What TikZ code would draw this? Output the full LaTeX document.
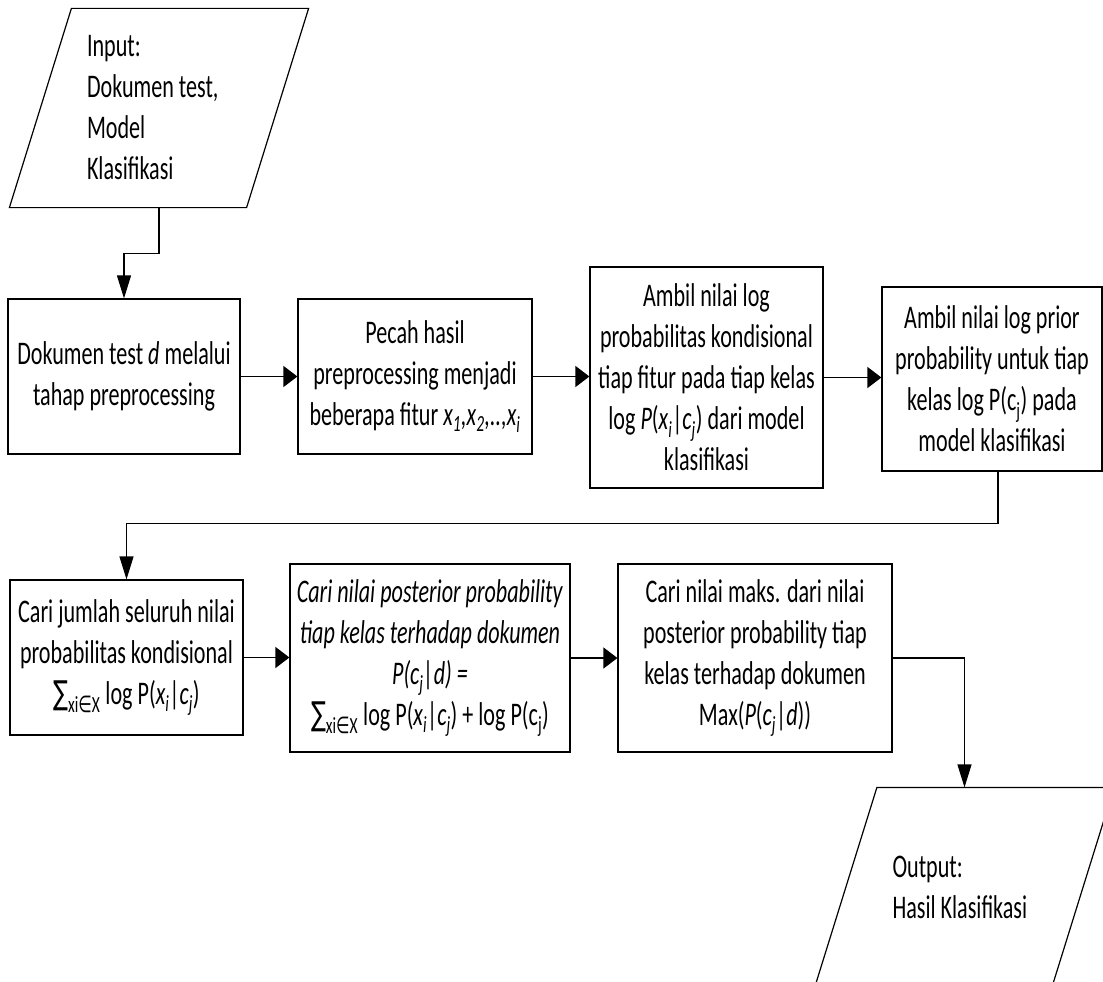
\documentclass[tikz,border=0pt]{standalone}
\usepackage{fontspec}
\setmainfont{Carlito}[FakeStretch=0.67]
\newfontfamily\sumfont{DejaVu Sans}[FakeStretch=0.67]
\usetikzlibrary{arrows.meta}
\newcommand{\sumx}{{\sumfont ∑}\textsubscript{xi{\sumfont ∈}X}}
\begin{document}
\begin{tikzpicture}[x=1pt,y=1pt,line width=1.2pt,font=\fontsize{33}{41}\selectfont,
  proc/.style={draw,align=center,inner sep=0pt},
  io/.style={align=flush left,text width=144pt,minimum width=298pt,minimum height=198pt,inner sep=0pt},
  harrow/.style={-{Triangle[length=14pt,width=21pt]}},
  varrow/.style={-{Triangle[length=23pt,width=14pt]}}]
\useasboundingbox (0,0) rectangle (1103,-982);
\clip (0,0) rectangle (1103,-982);
% input / output
\node[io] (in) at (159,-108) {Input:\\Dokumen test,\\Model\\Klasifikasi};
\draw ([xshift=62pt]in.north west) -- (in.north east) -- ([xshift=-62pt]in.south east) -- (in.south west) -- cycle;
\node[io] (out) at (964.5,-887) {Output:\\Hasil Klasifikasi};
\draw ([xshift=62pt]out.north west) -- (out.north east) -- ([xshift=-62pt]out.south east) -- (out.south west) -- cycle;
% first row
\node[proc,minimum width=232pt,minimum height=155pt] (dok) at (124,-376.5) {Dokumen test \textit{d} melalui\\tahap preprocessing};
\node[proc,minimum width=234pt,minimum height=155pt] (pecah) at (415,-376.5) {Pecah hasil\\preprocessing menjadi\\beberapa fitur \textit{x\textsubscript{1},x\textsubscript{2},..,x\textsubscript{i}}};
\node[proc,minimum width=233pt,minimum height=221pt] (ambil) at (706.5,-377.5) {Ambil nilai log\\probabilitas kondisional\\tiap fitur pada tiap kelas\\log \textit{P}(\textit{x\textsubscript{i}}|\textit{c\textsubscript{j}}) dari model\\klasifikasi};
\node[proc,minimum width=220pt,minimum height=184pt] (prior) at (992,-379) {Ambil nilai log prior\\probability untuk tiap\\kelas log P(c\textsubscript{j}) pada\\model klasifikasi};
% second row
\node[proc,minimum width=233pt,minimum height=155pt] (jumlah) at (126.5,-657.5) {Cari jumlah seluruh nilai\\probabilitas kondisional\\\sumx{} log P(\textit{x\textsubscript{i}}|\textit{c\textsubscript{j}})};
\node[proc,minimum width=280pt,minimum height=188pt] (post) at (430,-658) {\textit{Cari nilai posterior probability}\\\textit{tiap kelas terhadap dokumen}\\\textit{P(c\textsubscript{j}|d) =}\\\sumx{} log P(\textit{x\textsubscript{i}}|\textit{c\textsubscript{j}}) + log P(c\textsubscript{j})};
\node[proc,minimum width=274pt,minimum height=188pt] (maks) at (755,-658) {Cari nilai maks. dari nilai\\posterior probability tiap\\kelas terhadap dokumen\\Max(\textit{P}(\textit{c\textsubscript{j}}|\textit{d}))};
% connectors
\draw[varrow] (in.south) -- ++(0,-46) -| (dok.north);
\draw[harrow] (dok.east) -- (dok.east -| pecah.west);
\draw[harrow] (pecah.east) -- (pecah.east -| ambil.west);
\draw[harrow] (ambil.east) -- (ambil.east -| prior.west);
\draw[varrow] ([xshift=6pt]prior.south) -- ++(0,-52) -| (jumlah.north);
\draw[harrow] (jumlah.east) -- (jumlah.east -| post.west);
\draw[harrow] (post.east) -- (post.east -| maks.west);
\draw[varrow] (maks.east) -| (out.north);
\end{tikzpicture}
\end{document}
